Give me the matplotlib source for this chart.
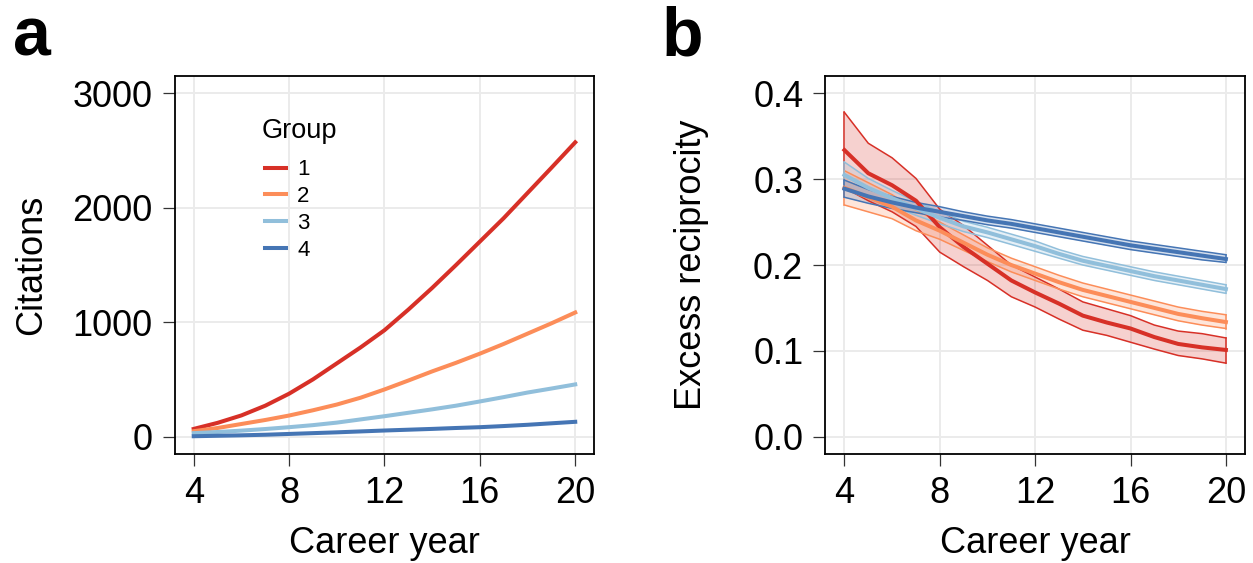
import matplotlib
matplotlib.use("Agg")
import matplotlib.pyplot as plt

plt.rcParams["font.family"] = ["Liberation Sans", "DejaVu Sans"]

groups = ["1", "2", "3", "4"]
colors = ["#d73027", "#fc8d59", "#91bfdb", "#4575b4"]

years = list(range(4, 21))

# panel a: citations per career year
cit_1 = [67, 120, 185, 270, 375, 500, 640, 780, 930, 1110, 1300, 1500, 1705, 1910, 2130, 2350, 2573]
cit_2 = [47, 75, 110, 145, 184, 230, 280, 340, 412, 490, 570, 645, 725, 810, 900, 990, 1085]
cit_3 = [30, 40, 52, 66, 82, 100, 122, 150, 178, 208, 238, 270, 307, 345, 385, 420, 456]
cit_4 = [3, 7, 11, 16, 23, 30, 37, 45, 53, 60, 67, 75, 82, 92, 103, 116, 129]
citations = [cit_1, cit_2, cit_3, cit_4]

# panel b: excess reciprocity, mean with lower / upper bounds
rec_1 = [0.334, 0.307, 0.293, 0.275, 0.244, 0.221, 0.2015, 0.182, 0.168, 0.155, 0.141, 0.133, 0.126, 0.116, 0.108, 0.104, 0.101]
rec_1_lo = [0.290, 0.275, 0.262, 0.245, 0.215, 0.198, 0.182, 0.163, 0.151, 0.137, 0.124, 0.118, 0.110, 0.102, 0.0945, 0.0906, 0.0856]
rec_1_hi = [0.378, 0.342, 0.325, 0.301, 0.265, 0.246, 0.223, 0.200, 0.186, 0.172, 0.157, 0.149, 0.141, 0.130, 0.123, 0.120, 0.115]

rec_2 = [0.290, 0.279, 0.268, 0.252, 0.240, 0.226, 0.212, 0.200, 0.190, 0.180, 0.171, 0.164, 0.157, 0.150, 0.143, 0.138, 0.1335]
rec_2_lo = [0.270, 0.262, 0.254, 0.240, 0.230, 0.217, 0.204, 0.192, 0.182, 0.172, 0.163, 0.156, 0.149, 0.142, 0.135, 0.130, 0.126]
rec_2_hi = [0.310, 0.296, 0.282, 0.264, 0.250, 0.235, 0.220, 0.208, 0.198, 0.188, 0.179, 0.172, 0.165, 0.158, 0.151, 0.146, 0.142]

rec_3 = [0.305, 0.290, 0.278, 0.266, 0.255, 0.245, 0.238, 0.230, 0.222, 0.213, 0.205, 0.199, 0.193, 0.187, 0.182, 0.177, 0.172]
rec_3_lo = [0.290, 0.279, 0.269, 0.258, 0.248, 0.239, 0.232, 0.224, 0.216, 0.208, 0.200, 0.194, 0.188, 0.182, 0.177, 0.172, 0.167]
rec_3_hi = [0.320, 0.301, 0.287, 0.274, 0.262, 0.251, 0.244, 0.236, 0.228, 0.218, 0.210, 0.204, 0.198, 0.192, 0.187, 0.182, 0.177]

rec_4 = [0.289, 0.280, 0.273, 0.267, 0.262, 0.257, 0.252, 0.248, 0.243, 0.238, 0.233, 0.228, 0.223, 0.219, 0.215, 0.211, 0.207]
rec_4_lo = [0.279, 0.272, 0.266, 0.261, 0.256, 0.252, 0.247, 0.243, 0.238, 0.233, 0.228, 0.223, 0.218, 0.214, 0.210, 0.206, 0.203]
rec_4_hi = [0.299, 0.288, 0.280, 0.273, 0.268, 0.262, 0.257, 0.253, 0.248, 0.243, 0.238, 0.233, 0.228, 0.224, 0.220, 0.216, 0.212]

recip = [rec_1, rec_2, rec_3, rec_4]
recip_lo = [rec_1_lo, rec_2_lo, rec_3_lo, rec_4_lo]
recip_hi = [rec_1_hi, rec_2_hi, rec_3_hi, rec_4_hi]

fig = plt.figure(figsize=(12.53, 5.63), dpi=100)
ax1 = fig.add_axes([0.1394, 0.1941, 0.3349, 0.6703])
ax2 = fig.add_axes([0.6587, 0.1941, 0.3349, 0.6703])


def style(ax):
    ax.grid(True, color="#ebebeb", linewidth=1.4, zorder=0)
    ax.set_axisbelow(True)
    for s in ax.spines.values():
        s.set_linewidth(1.3)
        s.set_color("black")
    ax.tick_params(axis="both", labelsize=26, length=8.9, width=0.9,
                   color="#333333", pad=7)
    ax.set_xticks([4, 8, 12, 16, 20])
    ax.set_xlim(3.2, 20.8)
    ax.set_xlabel("Career year", fontsize=26, labelpad=11)


for g, c, vals in zip(groups, colors, citations):
    ax1.plot(years, vals, color=c, lw=2.9, label=g, zorder=3)
style(ax1)
ax1.set_ylim(-150, 3150)
ax1.set_yticks([0, 1000, 2000, 3000])
ax1.set_ylabel("Citations", fontsize=26, labelpad=17)
ax1.text(0.207, 0.8365, "Group", fontsize=19.5, transform=ax1.transAxes,
         ha="left", va="baseline")
ax1.legend(loc="upper left", bbox_to_anchor=(0.215, 0.78), frameon=False,
           fontsize=16, borderpad=0, borderaxespad=0, handlelength=0.95,
           handletextpad=0.5, labelspacing=0.26)

for c, m, lo, hi in zip(colors, recip, recip_lo, recip_hi):
    ax2.fill_between(years, lo, hi, color=c, alpha=0.22, lw=0, zorder=2)
    ax2.plot(years, lo, color=c, lw=1.1, zorder=3)
    ax2.plot(years, hi, color=c, lw=1.1, zorder=3)
    ax2.plot([years[0], years[0]], [lo[0], hi[0]], color=c, lw=1.1, zorder=3)
    ax2.plot([years[-1], years[-1]], [lo[-1], hi[-1]], color=c, lw=1.1, zorder=3)
    ax2.plot(years, m, color=c, lw=2.9, zorder=4)
style(ax2)
ax2.set_ylim(-0.02, 0.42)
ax2.set_yticks([0.0, 0.1, 0.2, 0.3, 0.4])
ax2.set_yticklabels(["0.0", "0.1", "0.2", "0.3", "0.4"])
ax2.set_ylabel("Excess reciprocity", fontsize=26, labelpad=32)

fig.text(0.0105, 1 - 55 / 563, "a", fontsize=49, fontweight="bold", va="baseline")
fig.text(0.528, 1 - 55 / 563, "b", fontsize=49, fontweight="bold", va="baseline")

fig.savefig("out.png", dpi=100)
